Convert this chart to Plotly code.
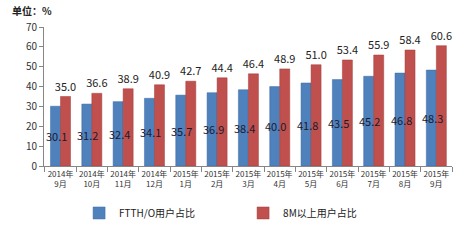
import plotly.graph_objects as go

categories = ["2014年<br>9月", "2014年<br>10月", "2014年<br>11月", "2014年<br>12月",
              "2015年<br>1月", "2015年<br>2月", "2015年<br>3月", "2015年<br>4月",
              "2015年<br>5月", "2015年<br>6月", "2015年<br>7月", "2015年<br>8月",
              "2015年<br>9月"]
ftth = [30.1, 31.2, 32.4, 34.1, 35.7, 36.9, 38.4, 40.0, 41.8, 43.5, 45.2, 46.8, 48.3]
m8 = [35.0, 36.6, 38.9, 40.9, 42.7, 44.4, 46.4, 48.9, 51.0, 53.4, 55.9, 58.4, 60.6]

FONT = "Noto Sans CJK SC, DejaVu Sans, sans-serif"

fig = go.Figure()
fig.add_trace(go.Bar(
    x=categories, y=ftth, name="FTTH/O用户占比",
    marker=dict(color="#4F81BD", line=dict(color="#3A6AA3", width=0.5)),
))
fig.add_trace(go.Bar(
    x=categories, y=m8, name="8M以上用户占比",
    marker=dict(color="#C0504D", line=dict(color="#A03D3A", width=0.5)),
    text=[f"{v:.1f}" for v in m8], textposition="outside", textangle=0,
    constraintext="none", cliponaxis=False,
    textfont=dict(family=FONT, size=11, color="#222222"),
))

# labels for the blue bars, centred in the bar (drawn over the neighbouring bar as in the original)
annotations = [dict(x=c, y=v / 2, xref="x", yref="y", text=f"{v:.1f}", showarrow=False,
                    xshift=-4, font=dict(family=FONT, size=11, color="#1a1a2e"))
               for c, v in zip(categories, ftth)]
annotations.append(dict(text="<b>单位：%</b>", xref="paper", yref="paper",
                        x=-0.083, y=1.118, xanchor="left", yanchor="middle",
                        showarrow=False, font=dict(family=FONT, size=10, color="#222222")))

fig.update_layout(
    width=459, height=244,
    margin=dict(l=44, r=7, t=27, b=78),
    paper_bgcolor="white", plot_bgcolor="white",
    barmode="group", bargap=0.36, bargroupgap=0,
    font=dict(family=FONT, color="#333333"),
    showlegend=True,
    legend=dict(orientation="h", x=0.086, xanchor="left", y=-0.338, yanchor="middle",
                entrywidth=119, entrywidthmode="pixels",
                font=dict(family=FONT, size=10, color="#222222"),
                itemwidth=30),
    xaxis=dict(showline=True, linecolor="#868686", linewidth=1,
               ticks="outside", tickson="boundaries", ticklen=5, tickcolor="#868686",
               tickangle=0,
               tickfont=dict(family=FONT, size=8, color="#333333"),
               showgrid=False),
    yaxis=dict(range=[0, 70], dtick=10, showline=True, linecolor="#868686", linewidth=1,
               ticks="outside", ticklen=4, tickcolor="#868686",
               tickfont=dict(family=FONT, size=10, color="#333333"),
               showgrid=False, zeroline=False),
    annotations=annotations,
)

fig.write_html("out.html")
